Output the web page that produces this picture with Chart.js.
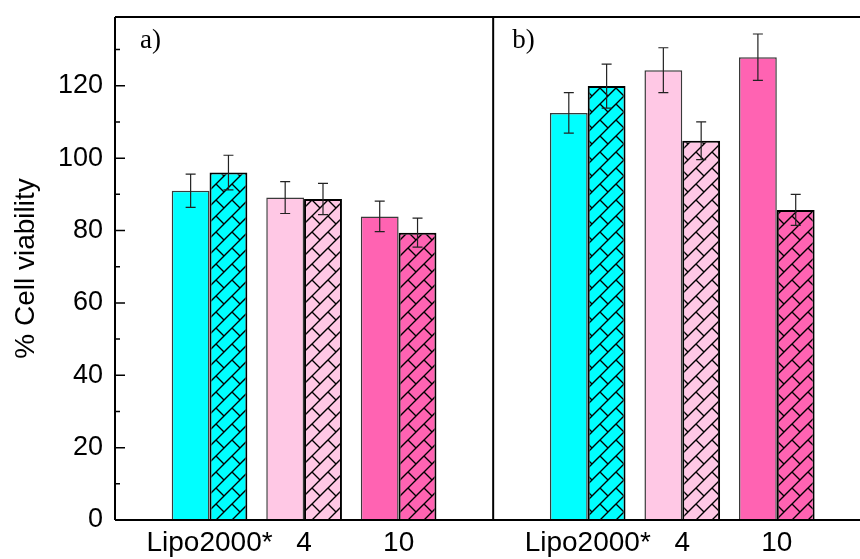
<!DOCTYPE html>
<html>
<head>
<meta charset="utf-8">
<title>% Cell viability</title>
<script src="https://cdn.jsdelivr.net/npm/chart.js@4.4.0/dist/chart.umd.min.js"></script>
<style>
  html, body { margin: 0; padding: 0; background: #fff; }
  #wrap { width: 860px; height: 559px; }
</style>
</head>
<body>
<div id="wrap"><canvas id="viabilite" width="860" height="559"></canvas></div>
<script>
// valeurs
const categories = ['Lipo2000*', '4', '10'];
const panneaux = ['a)', 'b)'];

// panneau a
const pleinA = [91.0, 89.1, 83.9];
const pleinErrA = [4.6, 4.4, 4.2];
const hachureA = [96.0, 88.7, 79.4];
const hachureErrA = [4.8, 4.3, 4.0];

// panneau b
const pleinB = [112.5, 124.3, 127.9];
const pleinErrB = [5.6, 6.2, 6.4];
const hachureB = [119.9, 104.8, 85.7];
const hachureErrB = [6.1, 5.2, 4.3];

const yTicks = [0, 20, 40, 60, 80, 100, 120];
const yMinor = [10, 30, 50, 70, 90, 110, 130];
const couleurs = ['#00ffff', '#ffc8e5', '#ff63b2'];

const PANEL = 4;      // largeur d'un panneau en unités de l'axe x
const X_MAX = 7.88;   // le panneau b est coupé à droite
const Y_MAX = 139;

// positions x : 1,2,3 pour a et 5,6,7 pour b
function points(valsA, valsB) {
    let out = [];
    valsA.forEach((v, i) => out.push({x: i + 1, y: v}));
    valsB.forEach((v, i) => out.push({x: PANEL + i + 1, y: v}));
    return out;
}
const tickVals = [];
for (let p = 0; p < panneaux.length; p++)
    categories.forEach((c, i) => tickVals.push(p * PANEL + i + 1));

// motif de briques en diagonale
function hachure(couleur) {
    const s = 16;
    const c = document.createElement('canvas');
    c.width = s; c.height = s;
    const g = c.getContext('2d');
    g.fillStyle = couleur;
    g.fillRect(0, 0, s, s);
    g.strokeStyle = '#000';
    g.lineWidth = 1.4;
    g.beginPath();
    for (const k of [0, s, 2 * s]) {
        g.moveTo(k + 2, -2);
        g.lineTo(k - s - 2, s + 2);
    }
    g.moveTo(s / 2, s / 2);
    g.lineTo(s + 2, s + 2);
    g.stroke();
    return g.createPattern(c, 'repeat');
}

const erreurs = [pleinErrA.concat(pleinErrB), hachureErrA.concat(hachureErrB)];

const barresErreur = {
    id: 'barresErreur',
    afterDatasetsDraw(chart) {
        const ctx = chart.ctx;
        const y = chart.scales.y;
        ctx.save();
        ctx.strokeStyle = '#222';
        ctx.lineWidth = 1.2;
        chart.data.datasets.forEach((ds, d) => {
            const meta = chart.getDatasetMeta(d);
            ds.data.forEach((pt, i) => {
                const bx = meta.data[i].x;
                const y1 = y.getPixelForValue(pt.y + erreurs[d][i]);
                const y2 = y.getPixelForValue(pt.y - erreurs[d][i]);
                ctx.beginPath();
                ctx.moveTo(bx, y1); ctx.lineTo(bx, y2);
                ctx.moveTo(bx - 5, y1); ctx.lineTo(bx + 5, y1);
                ctx.moveTo(bx - 5, y2); ctx.lineTo(bx + 5, y2);
                ctx.stroke();
            });
        });
        ctx.restore();
    }
};

const cadre = {
    id: 'cadre',
    afterDraw(chart) {
        const {ctx, chartArea: a, scales: {x, y}} = chart;
        ctx.save();
        ctx.strokeStyle = '#000';
        ctx.lineWidth = 2;
        ctx.beginPath();
        ctx.moveTo(a.left, a.top); ctx.lineTo(a.right, a.top);
        ctx.moveTo(a.left, a.bottom); ctx.lineTo(a.right, a.bottom);
        ctx.moveTo(a.left, a.top); ctx.lineTo(a.left, a.bottom);
        const xd = x.getPixelForValue(PANEL);
        ctx.moveTo(xd, a.top); ctx.lineTo(xd, a.bottom);
        ctx.stroke();
        // graduations vers l'intérieur
        ctx.lineWidth = 1.5;
        ctx.beginPath();
        yTicks.forEach(v => { const p = y.getPixelForValue(v); ctx.moveTo(a.left, p); ctx.lineTo(a.left + 10, p); });
        yMinor.forEach(v => { const p = y.getPixelForValue(v); ctx.moveTo(a.left, p); ctx.lineTo(a.left + 5, p); });
        ctx.stroke();
        // étiquettes des panneaux
        ctx.fillStyle = '#000';
        ctx.font = '27px "Liberation Serif", serif';
        ctx.textBaseline = 'alphabetic';
        ctx.fillText(panneaux[0], a.left + 25, a.top + 31);
        ctx.fillText(panneaux[1], xd + 19, a.top + 31);
        ctx.restore();
    }
};

Chart.defaults.font.family = '"Liberation Sans", Arial, sans-serif';
Chart.defaults.color = '#000';

const config = {
    type: 'bar',
    data: {
        datasets: [{
            label: 'plein',
            data: points(pleinA, pleinB),
            backgroundColor: couleurs.concat(couleurs),
            borderColor: '#3a3a3a',
            borderWidth: 1.5
        }, {
            label: 'hachure',
            data: points(hachureA, hachureB),
            backgroundColor: couleurs.concat(couleurs).map(hachure),
            borderColor: '#000',
            borderWidth: 2
        }]
    },
    options: {
        responsive: false,
        animation: false,
        layout: {padding: {top: 17, right: 0, left: 0, bottom: 0}},
        categoryPercentage: 0.8,
        barPercentage: 1.0,
        plugins: {legend: {display: false}, tooltip: {enabled: false}},
        scales: {
            x: {
                type: 'linear',
                min: 0,
                max: X_MAX,
                offset: false,
                grid: {display: false, drawTicks: false, offset: false},
                border: {display: false},
                afterBuildTicks: ax => { ax.ticks = tickVals.map(v => ({value: v})); },
                afterFit: ax => { ax.height = 39; ax.paddingLeft = 0; ax.paddingRight = 0; },
                ticks: {
                    padding: 6,
                    font: {size: 28},
                    autoSkip: false,
                    maxRotation: 0,
                    callback: v => categories[(v - 1) % PANEL]
                }
            },
            y: {
                min: 0,
                max: Y_MAX,
                grid: {display: false, drawTicks: false},
                border: {display: false},
                afterBuildTicks: ax => { ax.ticks = yTicks.map(v => ({value: v})); },
                afterFit: ax => { ax.width = 115; ax.paddingTop = 0; ax.paddingBottom = 0; },
                ticks: {padding: 12, font: {size: 27}},
                title: {
                    display: true,
                    text: '% Cell viability',
                    font: {size: 28},
                    padding: {top: 9, bottom: 0}
                }
            }
        }
    },
    plugins: [barresErreur, cadre]
};

new Chart(document.getElementById('viabilite'), config);
</script>
</body>
</html>
